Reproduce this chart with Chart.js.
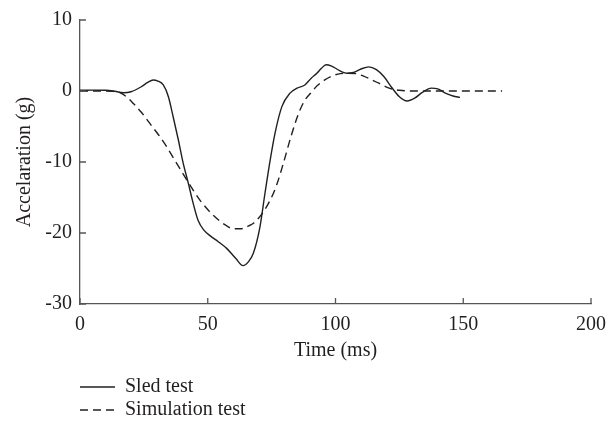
<!DOCTYPE html>
<html>
<head>
<meta charset="utf-8">
<script src="https://cdn.jsdelivr.net/npm/chart.js@4"></script>
<style>
  html, body { margin: 0; padding: 0; background: #ffffff; }
  #wrap { width: 615px; height: 425px; }
</style>
</head>
<body>
<div id="wrap"><canvas id="c" width="615" height="425"></canvas></div>
<script>
// ---- data ----
const seriesLabels = ["Sled test", "Simulation test"];

const sledTime  = [0, 5, 10, 13, 17, 20, 24, 26.5, 28.6, 30.5, 32.6, 34.6, 36.5, 38.5, 40.4, 42.4, 44, 46.2, 48.5, 51, 54, 57.5, 61, 63.8, 65.8, 67.8, 70.4, 72.4, 74.4, 76.3, 79, 82.2, 85, 88, 90.5, 92.7, 94.5, 96.3, 98.5, 100.5, 102.5, 104.5, 107, 110, 113, 116, 119, 122, 125, 128, 131, 134, 137.5, 140, 143, 146, 148.7];
const sledAccel = [0.1, 0.12, 0.1, 0.0, -0.24, -0.1, 0.6, 1.2, 1.55, 1.4, 0.85, -0.8, -3.7, -6.9, -10.2, -13, -15.4, -18.2, -19.6, -20.4, -21.2, -22.2, -23.6, -24.6, -24.1, -22.9, -19.2, -14.4, -9.8, -6, -2.2, -0.3, 0.4, 0.85, 1.8, 2.5, 3.2, 3.7, 3.5, 3.1, 2.7, 2.5, 2.6, 3.1, 3.4, 3.0, 2.0, 0.5, -0.8, -1.4, -1.0, -0.2, 0.4, 0.3, -0.3, -0.7, -0.9];

const simTime  = [0, 5, 10, 13, 16, 18.5, 21, 24, 27.4, 31, 34, 37, 40.4, 44, 47, 50.5, 54, 57, 60, 63, 66, 68, 71.2, 74.4, 77, 79.5, 82.5, 85.5, 88, 90.5, 93, 95.5, 98.5, 102, 105, 108, 111, 114, 117, 121, 125, 130, 140, 150, 160, 165.2];
const simAccel = [0, 0, 0, -0.05, -0.3, -0.9, -1.8, -3.0, -4.6, -6.3, -7.9, -9.7, -11.7, -13.8, -15.4, -16.9, -18.1, -18.9, -19.4, -19.4, -19.0, -18.6, -17.3, -15.4, -13.2, -10.3, -6.5, -3.2, -1.3, -0.2, 0.8, 1.5, 2.1, 2.45, 2.5, 2.45, 2.1, 1.6, 1.1, 0.4, 0.1, 0, 0, 0, 0, 0];

const xTicks = [0, 50, 100, 150, 200];
const yTicks = [-30, -20, -10, 0, 10];
const xTitle = "Time (ms)";
const yTitle = "Accelaration (g)";

// ---- styling ----
const FONT = "'Liberation Serif', 'Times New Roman', serif";
const TXT = "#231f20";
const AXIS = "#555555";
Chart.defaults.font.family = FONT;
Chart.defaults.font.size = 20;
Chart.defaults.color = TXT;

const toPts = (xs, ys) => xs.map((x, i) => ({ x: x, y: ys[i] }));

// inward tick marks
const inwardTicks = {
  id: 'inwardTicks',
  afterDraw(chart) {
    const ctx = chart.ctx;
    const xs = chart.scales.x, ys = chart.scales.y;
    const a = chart.chartArea;
    ctx.save();
    ctx.strokeStyle = AXIS;
    ctx.lineWidth = 1.3;
    ctx.beginPath();
    xTicks.forEach(v => {
      const px = xs.getPixelForValue(v);
      ctx.moveTo(px, a.bottom);
      ctx.lineTo(px, a.bottom - 6);
    });
    yTicks.forEach(v => {
      const py = ys.getPixelForValue(v);
      ctx.moveTo(a.left, py);
      ctx.lineTo(a.left + 6, py);
    });
    ctx.stroke();
    ctx.restore();
  }
};

// stacked legend below plot
const stackedLegend = {
  id: 'stackedLegend',
  afterDraw(chart) {
    const ctx = chart.ctx;
    const rows = [387, 410];
    ctx.save();
    chart.data.datasets.forEach((ds, i) => {
      const y = rows[i];
      ctx.strokeStyle = ds.borderColor;
      ctx.lineWidth = ds.borderWidth;
      ctx.setLineDash(ds.borderDash || []);
      ctx.beginPath();
      ctx.moveTo(80, y);
      ctx.lineTo(115, y);
      ctx.stroke();
      ctx.setLineDash([]);
      ctx.fillStyle = TXT;
      ctx.font = "20px " + FONT;
      ctx.textBaseline = 'middle';
      ctx.textAlign = 'left';
      ctx.fillText(ds.label, 125, y);
    });
    ctx.restore();
  }
};

new Chart(document.getElementById('c'), {
  type: 'line',
  data: {
    datasets: [
      {
        label: seriesLabels[0],
        data: toPts(sledTime, sledAccel),
        borderColor: '#231f20',
        borderWidth: 1.4,
        pointRadius: 0,
        cubicInterpolationMode: 'monotone',
        fill: false
      },
      {
        label: seriesLabels[1],
        data: toPts(simTime, simAccel),
        borderColor: '#231f20',
        borderWidth: 1.4,
        borderDash: [8, 5],
        pointRadius: 0,
        cubicInterpolationMode: 'monotone',
        fill: false
      }
    ]
  },
  options: {
    responsive: false,
    animation: false,
    layout: { padding: { left: 0, top: 20, right: 24, bottom: 61 } },
    plugins: { legend: { display: false }, tooltip: { enabled: false } },
    scales: {
      x: {
        type: 'linear',
        min: 0, max: 200,
        afterBuildTicks: s => { s.ticks = xTicks.map(v => ({ value: v })); },
        afterFit: s => { s.height = 60; },
        grid: { display: false, drawTicks: false },
        border: { display: true, color: AXIS, width: 1.3 },
        ticks: { padding: 9, color: TXT },
        title: { display: true, text: xTitle, color: TXT, padding: { top: 0, bottom: 1 } }
      },
      y: {
        min: -30, max: 10,
        afterBuildTicks: s => { s.ticks = yTicks.map(v => ({ value: v })); },
        afterFit: s => { s.width = 80; },
        grid: { display: false, drawTicks: false },
        border: { display: true, color: AXIS, width: 1.3 },
        ticks: { padding: 8, color: TXT },
        title: { display: true, text: yTitle, color: TXT, padding: { top: 13, bottom: 0 } }
      }
    }
  },
  plugins: [inwardTicks, stackedLegend]
});
</script>
</body>
</html>
